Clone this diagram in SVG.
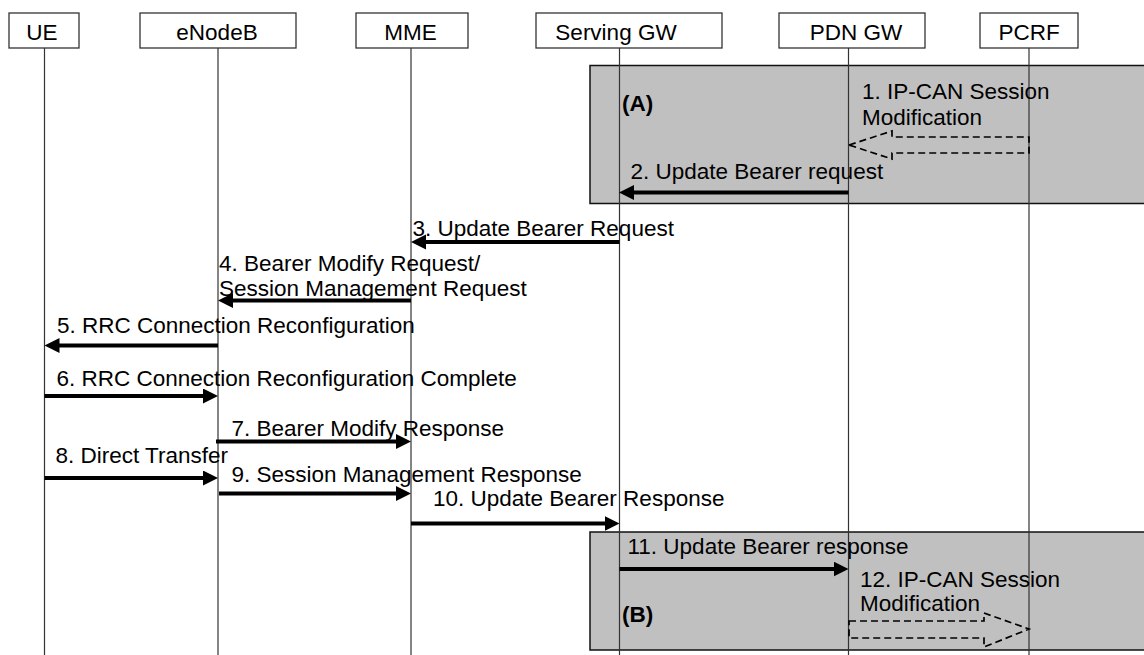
<svg xmlns="http://www.w3.org/2000/svg" width="1144" height="655" viewBox="0 0 1144 655">
<style>
text{font-family:"Liberation Sans",Arial,sans-serif;font-size:22.5px;fill:#000}
.hb{fill:#fff;stroke:#333;stroke-width:1.3}
.hc{text-anchor:middle}
.ll{stroke:#333;stroke-width:1.2}
.grp{fill:#c0c0c0;stroke:#111;stroke-width:1.5}
.msg{stroke:#000;stroke-width:4;fill:none;marker-end:url(#ah)}
.dash{fill:none;stroke:#000;stroke-width:1.7;stroke-dasharray:7 4}
.b{font-weight:bold}
</style>
<defs>
<marker id="ah" markerUnits="userSpaceOnUse" markerWidth="16" markerHeight="16" refX="7" refY="7.5" orient="auto">
<path d="M0,0 L15,7.5 L0,15 z" fill="#000"/>
</marker>
</defs>
<g id="groups">
<rect class="grp" x="590" y="65.5" width="570" height="138"/>
<rect class="grp" x="590" y="532" width="570" height="118"/>
</g>
<g id="lifelines">
<line class="ll" x1="44.5" y1="48" x2="44.5" y2="655"/>
<line class="ll" x1="218" y1="48" x2="218" y2="655"/>
<line class="ll" x1="411" y1="48" x2="411" y2="655"/>
<line class="ll" x1="619.5" y1="48" x2="619.5" y2="655"/>
<line class="ll" x1="848.5" y1="48" x2="848.5" y2="655"/>
<line class="ll" x1="1029" y1="48" x2="1029" y2="655"/>
</g>
<g id="node-ue"><rect class="hb" x="9" y="13" width="70" height="35"/><text class="hc" x="42" y="40">UE</text></g>
<g id="node-enodeb"><rect class="hb" x="140" y="13" width="156" height="35"/><text class="hc" x="217" y="40">eNodeB</text></g>
<g id="node-mme"><rect class="hb" x="356" y="13" width="112" height="35"/><text class="hc" x="410.5" y="40">MME</text></g>
<g id="node-sgw"><rect class="hb" x="536" y="13" width="186" height="35"/><text class="hc" x="616" y="40">Serving GW</text></g>
<g id="node-pgw"><rect class="hb" x="779" y="13" width="146" height="35"/><text class="hc" x="856" y="40">PDN GW</text></g>
<g id="node-pcrf"><rect class="hb" x="980" y="13" width="98" height="35"/><text class="hc" x="1029" y="40">PCRF</text></g>
<g id="connectors">
<polygon class="dash" points="849,145 892,131 892,137 1029,137 1029,153 892,153 892,159"/>
<polygon class="dash" points="849,621 984,621 984,613 1029,629 984,647 984,638 849,638"/>
<line class="msg" x1="848.5" y1="192.5" x2="627" y2="192.5"/>
<line class="msg" x1="619.5" y1="242" x2="419" y2="242"/>
<line class="msg" x1="411" y1="300.5" x2="226" y2="300.5"/>
<line class="msg" x1="218" y1="345.5" x2="52.5" y2="345.5"/>
<line class="msg" x1="44.5" y1="396" x2="210" y2="396"/>
<line class="msg" x1="216" y1="441.5" x2="403" y2="441.5"/>
<line class="msg" x1="44.5" y1="478" x2="210" y2="478"/>
<line class="msg" x1="219" y1="493.5" x2="403" y2="493.5"/>
<line class="msg" x1="411" y1="523.5" x2="611.5" y2="523.5"/>
<line class="msg" x1="619.5" y1="569" x2="840.5" y2="569"/>
</g>
<g id="labels">
<text class="b" x="622" y="111">(A)</text>
<text x="862" y="99">1. IP-CAN Session</text>
<text x="862" y="125">Modification</text>
<text x="630.5" y="178.5">2. Update Bearer request</text>
<text x="412.5" y="236">3. Update Bearer Request</text>
<text x="219" y="271">4. Bearer Modify Request/</text>
<text x="219" y="296">Session Management Request</text>
<text x="57" y="333">5. RRC Connection Reconfiguration</text>
<text x="56.5" y="386">6. RRC Connection Reconfiguration Complete</text>
<text x="231.5" y="436">7. Bearer Modify Response</text>
<text x="55.5" y="463">8. Direct Transfer</text>
<text x="231.5" y="482">9. Session Management Response</text>
<text x="433" y="506">10. Update Bearer Response</text>
<text x="627.5" y="553.5">11. Update Bearer response</text>
<text x="860" y="587">12. IP-CAN Session</text>
<text x="860" y="611">Modification</text>
<text class="b" x="622" y="622">(B)</text>
</g>
</svg>
